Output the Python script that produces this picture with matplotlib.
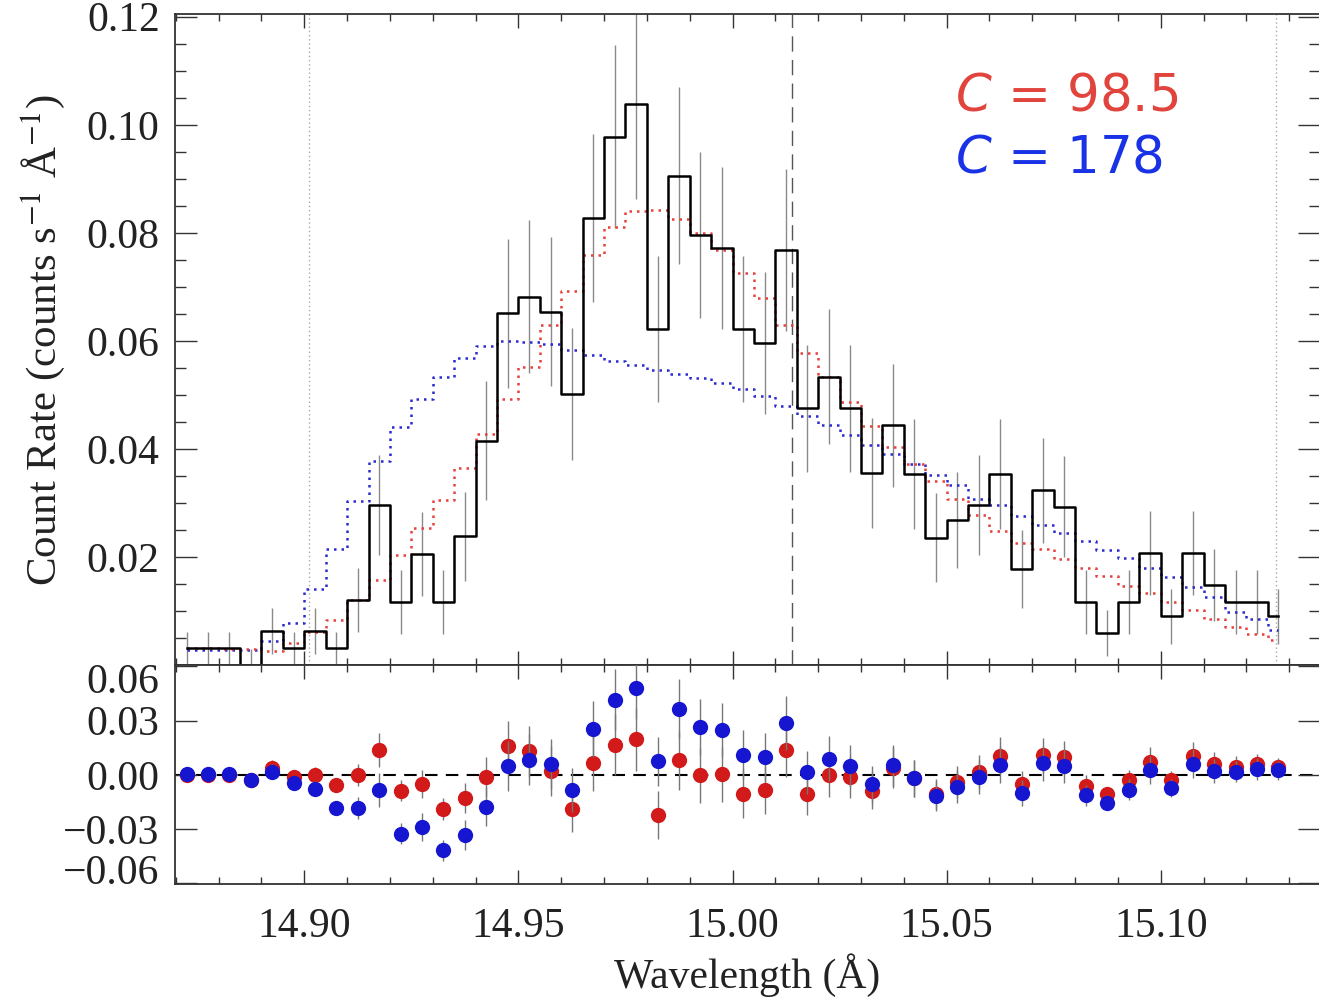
import numpy as np
import matplotlib
matplotlib.use("Agg")
import matplotlib.pyplot as plt
import matplotlib.transforms as mtransforms
from matplotlib.ticker import MultipleLocator

# bin centres: 52 bins of 0.005 A starting at 14.8725
bin_start = 14.8725
bin_width = 0.005
wave = np.round(bin_start + bin_width * np.arange(52), 4)

# observed count rate (black histogram)
counts = np.array([
    0.0031, 0.0031, 0.0031, 0.0000, 0.0063, 0.0031, 0.0063, 0.0031, 0.0120, 0.0296,
    0.0117, 0.0205, 0.0117, 0.0238, 0.0415, 0.0651, 0.0682, 0.0654, 0.0502, 0.0827,
    0.0978, 0.1038, 0.0622, 0.0906, 0.0796, 0.0772, 0.0622, 0.0596, 0.0769, 0.0475,
    0.0534, 0.0475, 0.0355, 0.0444, 0.0353, 0.0236, 0.0269, 0.0296, 0.0354, 0.0177,
    0.0323, 0.0293, 0.0117, 0.0059, 0.0117, 0.0207, 0.0090, 0.0207, 0.0148, 0.0117,
    0.0117, 0.0090])

errors = np.array([
    0.0030, 0.0030, 0.0030, 0.0030, 0.0042, 0.0030, 0.0042, 0.0030, 0.0059, 0.0093,
    0.0059, 0.0078, 0.0059, 0.0083, 0.0110, 0.0138, 0.0141, 0.0138, 0.0122, 0.0156,
    0.0169, 0.0175, 0.0135, 0.0164, 0.0153, 0.0150, 0.0135, 0.0132, 0.0150, 0.0118,
    0.0125, 0.0118, 0.0102, 0.0114, 0.0102, 0.0083, 0.0089, 0.0093, 0.0102, 0.0072,
    0.0098, 0.0093, 0.0059, 0.0042, 0.0059, 0.0078, 0.0051, 0.0078, 0.0066, 0.0059,
    0.0059, 0.0051])

# model with C = 98.5 (red dotted)
model_red = np.array([
    0.0031, 0.0031, 0.0030, 0.0030, 0.0025, 0.0040, 0.0062, 0.0084, 0.0120, 0.0158,
    0.0204, 0.0253, 0.0306, 0.0364, 0.0428, 0.0492, 0.0552, 0.0630, 0.0693, 0.0759,
    0.0810, 0.0841, 0.0843, 0.0826, 0.0799, 0.0769, 0.0725, 0.0679, 0.0630, 0.0578,
    0.0533, 0.0486, 0.0443, 0.0404, 0.0372, 0.0340, 0.0307, 0.0278, 0.0248, 0.0225,
    0.0214, 0.0196, 0.0179, 0.0165, 0.0146, 0.0133, 0.0117, 0.0102, 0.0086, 0.0071,
    0.0058, 0.0046])

# model with C = 178 (blue dotted)
model_blue = np.array([
    0.0028, 0.0028, 0.0028, 0.0028, 0.0045, 0.0078, 0.0140, 0.0215, 0.0303, 0.0378,
    0.0441, 0.0492, 0.0534, 0.0568, 0.0590, 0.0600, 0.0598, 0.0595, 0.0583, 0.0574,
    0.0563, 0.0556, 0.0546, 0.0539, 0.0531, 0.0522, 0.0511, 0.0497, 0.0480, 0.0461,
    0.0444, 0.0426, 0.0407, 0.0391, 0.0372, 0.0352, 0.0333, 0.0308, 0.0297, 0.0276,
    0.0259, 0.0244, 0.0230, 0.0213, 0.0198, 0.0179, 0.0162, 0.0144, 0.0126, 0.0099,
    0.0085, 0.0065])

resid_red = counts - model_red
resid_blue = counts - model_blue

c_red_label = "$C$ = 98.5"
c_blue_label = "$C$ = 178"
line_left, line_mid, line_right = 14.901, 15.014, 15.127

serif = "Liberation Serif"
plt.rcParams["font.family"] = [serif, "DejaVu Serif"]
plt.rcParams["mathtext.fontset"] = "stix"
axis_col = "#333333"

fig = plt.figure(figsize=(13.19, 10), dpi=100)
L, W = 175 / 1319, 1145 / 1319
ax1 = fig.add_axes([L, 0.335, W, 0.651])
ax2 = fig.add_axes([L, 0.116, W, 0.219], sharex=ax1)

# top panel
ax1.errorbar(wave, counts, yerr=errors, fmt="none", ecolor="#8a8a8a",
             elinewidth=1.0, capsize=0, zorder=1)
ax1.step(wave, model_blue, where="mid", color="#2a2ad0", lw=1.8,
         ls=(0, (1, 2)), zorder=2)
ax1.step(wave, model_red, where="mid", color="#e8403c", lw=1.8,
         ls=(0, (1, 2)), zorder=2)
ax1.step(wave, counts, where="mid", color="black", lw=1.8, zorder=3)
for xv in (line_left, line_right):
    ax1.axvline(xv, color="#aaaaaa", ls=(0, (1, 2)), lw=1.0, zorder=0)
ax1.axvline(line_mid, color="#555555", ls=(0, (11, 6)), lw=1.0, zorder=0)

ax1.text(0.681, 0.8525, c_red_label, transform=ax1.transAxes, color="#e0443c",
         fontsize=37, family="DejaVu Sans", math_fontfamily="dejavusans",
         va="baseline", ha="left")
ax1.text(0.681, 0.756, c_blue_label, transform=ax1.transAxes, color="#1a32e6",
         fontsize=37, family="DejaVu Sans", math_fontfamily="dejavusans",
         va="baseline", ha="left")

ax1.set_xlim(14.8698, 15.1372)
ax1.set_ylim(0, 0.1205)
ax1.set_yticks([0.02, 0.04, 0.06, 0.08, 0.10, 0.12])
ax1.set_yticklabels(["0.02", "0.04", "0.06", "0.08", "0.10", "0.12"])
ax1.yaxis.set_minor_locator(MultipleLocator(0.005))
ax1.set_ylabel("Count Rate (counts s$^{-1}$ Å$^{-1}$)", fontsize=31, color="#222222")
ax1.yaxis.set_label_coords(-0.094, 0.5)
plt.setp(ax1.get_xticklabels(), visible=False)

# residual panel
ax2.axhline(0, color="black", ls=(0, (6, 4)), lw=1.5, zorder=1)
ax2.errorbar(wave, resid_red, yerr=errors, fmt="o", color="#d21a1a", ms=11,
             mec="none", ecolor="#777777", elinewidth=1.0, capsize=0, zorder=2)
ax2.errorbar(wave, resid_blue, yerr=errors, fmt="o", color="#1616d0", ms=11,
             mec="none", ecolor="#777777", elinewidth=1.0, capsize=0, zorder=3)
ax2.set_ylim(-0.0603, 0.0608)
ax2.set_yticks([-0.06, -0.03, 0.0, 0.03, 0.06])
ax2.set_yticklabels(["\u22120.06", "\u22120.03", "0.00", "0.03", "0.06"])
ax2.xaxis.set_major_locator(MultipleLocator(0.05))
ax2.xaxis.set_minor_locator(MultipleLocator(0.01))
ax2.set_xticks([14.90, 14.95, 15.00, 15.05, 15.10])
ax2.set_xticklabels(["14.90", "14.95", "15.00", "15.05", "15.10"])
ax2.set_xlabel("Wavelength (Å)", fontsize=30, color="#222222", labelpad=5)

for ax in (ax1, ax2):
    for sp in ax.spines.values():
        sp.set_color(axis_col)
        sp.set_linewidth(1.3)
    ax.tick_params(which="both", direction="in", top=True, right=True,
                   color=axis_col, labelsize=30, labelcolor="#222222")
    ax.tick_params(axis="y", which="major", length=16, width=1.0, pad=11)
    ax.tick_params(axis="y", which="minor", length=8, width=1.0)
    ax.tick_params(axis="x", which="major", length=10, width=1.0, pad=17)
    ax.tick_params(axis="x", which="minor", length=5, width=1.0)

# pull the edge labels of the residual panel inwards, as in the original
yticks2 = ax2.yaxis.get_major_ticks()
for tk, dy in ((yticks2[0], 14), (yticks2[-1], -12)):
    off = mtransforms.ScaledTranslation(0, dy / 100, fig.dpi_scale_trans)
    tk.label1.set_transform(tk.label1.get_transform() + off)

fig.savefig("out.png", dpi=100)
